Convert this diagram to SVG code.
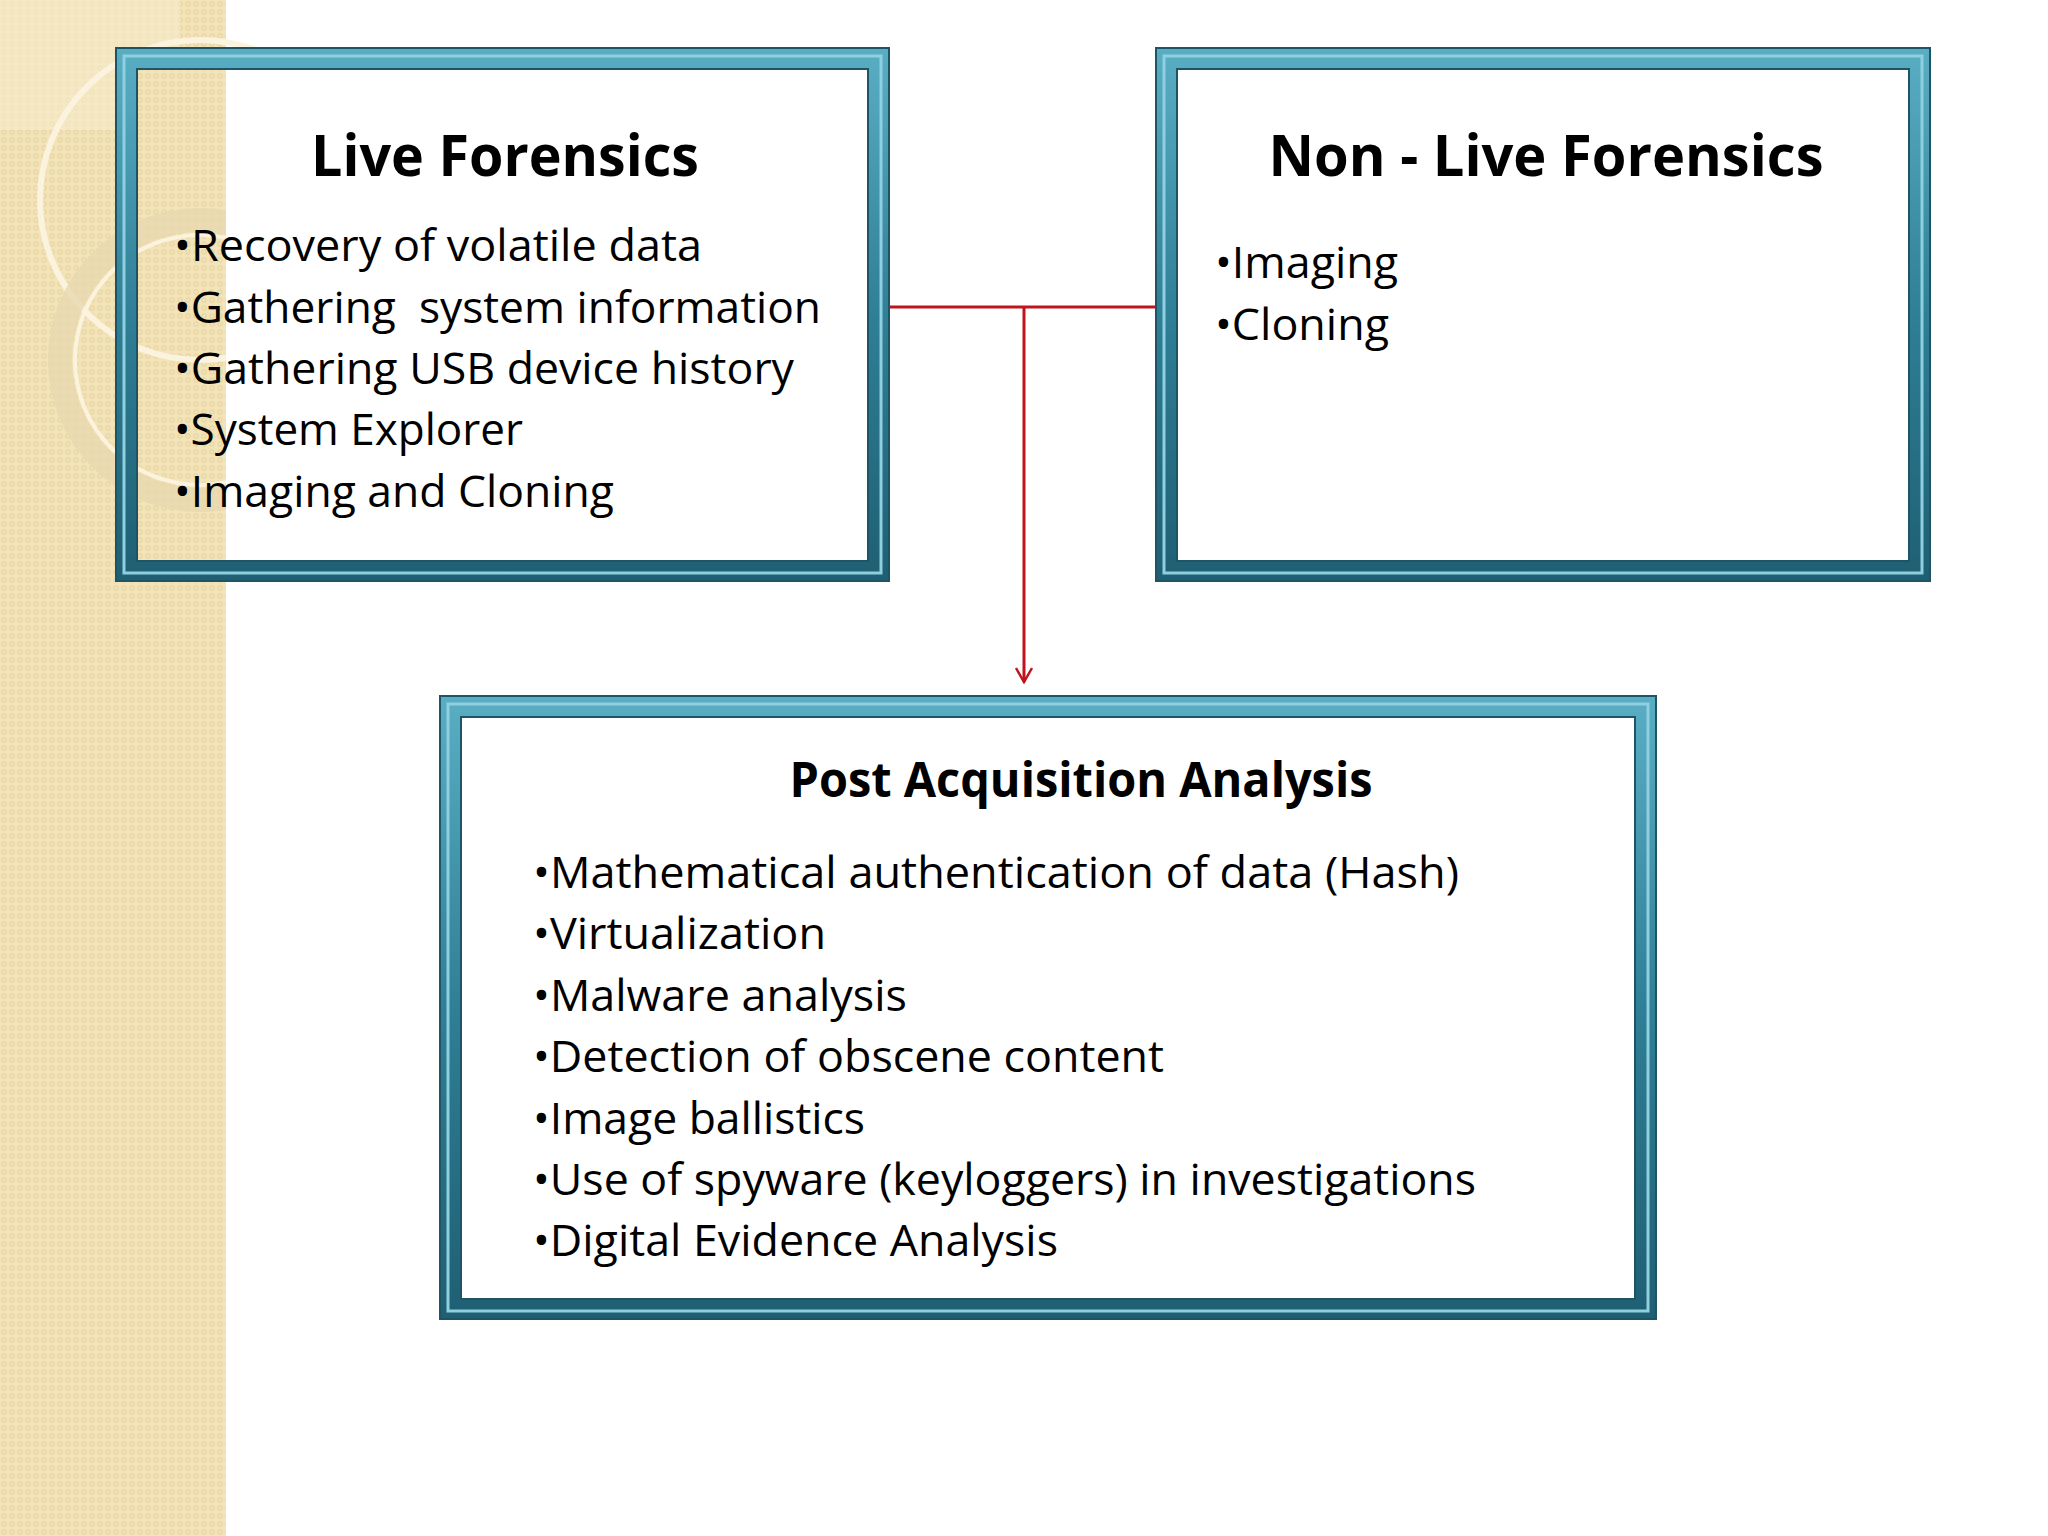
<svg xmlns="http://www.w3.org/2000/svg" width="2048" height="1536" viewBox="0 0 2048 1536">
<defs>
<pattern id="dots" width="8" height="8" patternUnits="userSpaceOnUse"><rect width="8" height="8" fill="#f3e3b8"/><circle cx="4" cy="4" r="2.2" fill="none" stroke="#e6d09a" stroke-width="1"/></pattern>
<linearGradient id="fr" x1="0" y1="0" x2="0" y2="1"><stop offset="0" stop-color="#5aaec4"/><stop offset="0.5" stop-color="#2f7f96"/><stop offset="1" stop-color="#1f5f73"/></linearGradient>
<marker id="arr" viewBox="0 0 20 20" refX="18" refY="10" markerWidth="20" markerHeight="20" markerUnits="userSpaceOnUse" orient="auto"><path d="M4 2 L18 10 L4 18" fill="none" stroke="#c0141c" stroke-width="2.5"/></marker>
<clipPath id="strip"><rect x="138" y="70" width="88" height="490"/></clipPath>
</defs>
<style>
.fo{fill:url(#fr);stroke:#1d5566;stroke-width:2}
.hl{fill:none;stroke:#8fd0e0;stroke-width:3}
.in{fill:#fff;stroke:#1d5566;stroke-width:2}
.t{font-family:"Open Sans","Noto Sans",sans-serif;font-weight:bold;fill:#000;text-anchor:middle}
.b{font-family:"Open Sans","Noto Sans",sans-serif;font-size:43px;fill:#000}
.c{stroke:#c0141c;stroke-width:3;fill:none}
</style>
<rect width="2048" height="1536" fill="#fff"/>
<rect x="0" y="0" width="226" height="1536" fill="url(#dots)"/>
<rect x="0" y="0" width="180" height="130" fill="#f7ebcc" opacity="0.6"/>
<g fill="none">
<circle cx="200" cy="200" r="160" stroke="#fbf3de" stroke-width="6"/>
<circle cx="200" cy="360" r="140" stroke="#e8d8b0" stroke-width="24" opacity="0.8"/>
<circle cx="200" cy="360" r="125" stroke="#fbf3de" stroke-width="4"/>
</g>
<g id="live">
<rect class="fo" x="116" y="48" width="773" height="533"/>
<rect class="hl" x="124" y="56" width="757" height="517"/>
<rect class="in" x="137" y="69" width="731" height="492"/>
<g clip-path="url(#strip)">
<rect x="0" y="0" width="226" height="1536" fill="url(#dots)"/>
<g fill="none">
<circle cx="200" cy="200" r="160" stroke="#fbf3de" stroke-width="6"/>
<circle cx="200" cy="360" r="140" stroke="#e8d8b0" stroke-width="24" opacity="0.8"/>
<circle cx="200" cy="360" r="125" stroke="#fbf3de" stroke-width="4"/>
</g>
</g>
<text class="t" x="505" y="176" font-size="58" textLength="388" lengthAdjust="spacingAndGlyphs">Live Forensics</text>
<text class="b" x="174" y="261" textLength="528" lengthAdjust="spacingAndGlyphs">•Recovery of volatile data</text>
<text class="b" x="174" y="323" textLength="647" lengthAdjust="spacingAndGlyphs" xml:space="preserve">•Gathering  system information</text>
<text class="b" x="174" y="384" textLength="620" lengthAdjust="spacingAndGlyphs">•Gathering USB device history</text>
<text class="b" x="174" y="445" textLength="349" lengthAdjust="spacingAndGlyphs">•System Explorer</text>
<text class="b" x="174" y="507" textLength="440" lengthAdjust="spacingAndGlyphs">•Imaging and Cloning</text>
</g>
<g id="nonlive">
<rect class="fo" x="1156" y="48" width="774" height="533"/>
<rect class="hl" x="1164" y="56" width="758" height="517"/>
<rect class="in" x="1177" y="69" width="732" height="492"/>
<text class="t" x="1546" y="176" font-size="58" textLength="555" lengthAdjust="spacingAndGlyphs">Non - Live Forensics</text>
<text class="b" x="1215" y="278" textLength="183" lengthAdjust="spacingAndGlyphs">•Imaging</text>
<text class="b" x="1215" y="340" textLength="174" lengthAdjust="spacingAndGlyphs">•Cloning</text>
</g>
<g id="post">
<rect class="fo" x="440" y="696" width="1216" height="623"/>
<rect class="hl" x="448" y="704" width="1200" height="607"/>
<rect class="in" x="461" y="717" width="1174" height="582"/>
<text class="t" x="1081" y="797" font-size="48" textLength="583" lengthAdjust="spacingAndGlyphs">Post Acquisition Analysis</text>
<text class="b" x="533" y="888" textLength="926" lengthAdjust="spacingAndGlyphs">•Mathematical authentication of data (Hash)</text>
<text class="b" x="533" y="949" textLength="293" lengthAdjust="spacingAndGlyphs">•Virtualization</text>
<text class="b" x="533" y="1011" textLength="374" lengthAdjust="spacingAndGlyphs">•Malware analysis</text>
<text class="b" x="533" y="1072" textLength="631" lengthAdjust="spacingAndGlyphs">•Detection of obscene content</text>
<text class="b" x="533" y="1134" textLength="332" lengthAdjust="spacingAndGlyphs">•Image ballistics</text>
<text class="b" x="533" y="1195" textLength="943" lengthAdjust="spacingAndGlyphs">•Use of spyware (keyloggers) in investigations</text>
<text class="b" x="533" y="1256" textLength="525" lengthAdjust="spacingAndGlyphs">•Digital Evidence Analysis</text>
</g>
<g id="connectors">
<path class="c" d="M889 307 H1156"/>
<path class="c" d="M1024 307 V682" marker-end="url(#arr)"/>
</g>
</svg>
